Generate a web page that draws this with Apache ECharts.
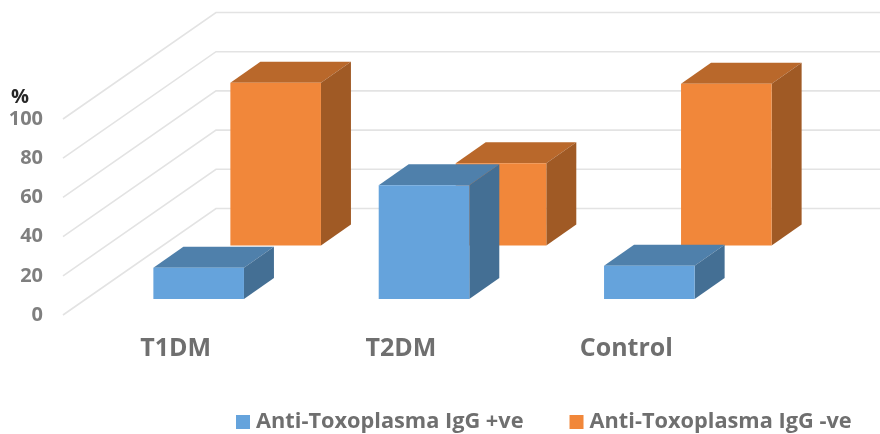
<!DOCTYPE html>
<html>
<head>
<meta charset="utf-8">
<style>
  html, body { margin: 0; padding: 0; background: #fff; }
  #chart { width: 880px; height: 434px; }
</style>
<script src="https://cdn.jsdelivr.net/npm/echarts@6/dist/echarts.min.js"></script>
</head>
<body>
<div id="chart"></div>
<script>
const categories = ['T1DM', 'T2DM', 'Control'];
const positive = [16, 58, 17];
const negative = [83, 42, 82.5];
const yTicks = [0, 20, 40, 60, 80, 100];

const fontName = '"Open Sans", sans-serif';
const chart = echarts.init(document.getElementById('chart'));

// draws one box: shiftX/shiftY is how far back on the floor the front face sits
function boxRenderer(shiftX, shiftY, colors) {
    return function (params, api) {
        const top = api.coord([api.value(0), api.value(1)]);
        const base = api.coord([api.value(0), 0]);
        const w = api.size([1, 0])[0] * 0.402;
        const x0 = top[0] - w / 2 + shiftX;
        const x1 = x0 + w;
        const yt = top[1] + shiftY;
        const yb = base[1] + shiftY;
        const dx = 30, dy = -21;
        return {
            type: 'group',
            children: [
                { type: 'polygon', shape: { points: [[x0, yt], [x1, yt], [x1 + dx, yt + dy], [x0 + dx, yt + dy]] }, style: { fill: colors[1] } },
                { type: 'polygon', shape: { points: [[x1, yt], [x1 + dx, yt + dy], [x1 + dx, yb + dy], [x1, yb]] }, style: { fill: colors[2] } },
                { type: 'rect', shape: { x: x0, y: yt, width: w, height: yb - yt }, style: { fill: colors[0] } }
            ]
        };
    };
}

// side wall diagonal plus back wall line for every y tick
function wallRenderer(params, api) {
    const p = api.coord([0, api.value(1)]);
    const left = params.coordSys.x;
    const right = left + params.coordSys.width + 153;
    const y = p[1];
    return {
        type: 'polyline',
        shape: { points: [[left, y], [left + 153, y - 106.5], [right, y - 106.5]] },
        style: { fill: 'none', stroke: '#e3e3e3', lineWidth: 1.6 }
    };
}

chart.setOption({
    animation: false,
    backgroundColor: '#fff',
    textStyle: { fontFamily: fontName },
    grid: { left: 63, top: 119, width: 676, height: 196 },
    legend: {
        data: ['Anti-Toxoplasma IgG +ve', 'Anti-Toxoplasma IgG -ve'],
        left: 231,
        top: 406,
        icon: 'rect',
        itemWidth: 14,
        itemHeight: 14,
        itemGap: 46,
        textStyle: { color: '#6f6f6f', fontWeight: 'bold', fontSize: 21.75, fontFamily: fontName, padding: [0, 0, 0, 1] }
    },
    xAxis: {
        type: 'category',
        data: categories,
        axisLine: { show: false },
        axisTick: { show: false },
        axisLabel: { color: '#6f6f6f', fontWeight: 'bold', fontSize: 25, margin: 21, fontFamily: fontName }
    },
    yAxis: {
        type: 'value',
        min: 0,
        max: 100,
        interval: 20,
        axisLine: { show: false },
        axisTick: { show: false },
        splitLine: { show: false },
        axisLabel: { color: '#7f7f7f', fontWeight: 'bold', fontSize: 20, margin: 20, padding: [7, 0, 0, 0], fontFamily: fontName }
    },
    graphic: [
        { type: 'text', left: 11, top: 87, style: { text: '%', fill: '#262626', font: 'bold 20px ' + fontName } }
    ],
    series: [
        {
            name: 'walls',
            type: 'custom',
            clip: false,
            silent: true,
            renderItem: wallRenderer,
            encode: { x: 0, y: 1 },
            data: yTicks.map(v => [0, v]),
            z: 1
        },
        {
            name: 'Anti-Toxoplasma IgG -ve',
            type: 'custom',
            clip: false,
            renderItem: boxRenderer(100, -69.5, ['#f1873a', '#b9682b', '#a05a25']),
            encode: { x: 0, y: 1 },
            itemStyle: { color: '#f1873a' },
            data: negative.map((v, i) => [i, v]),
            z: 2
        },
        {
            name: 'Anti-Toxoplasma IgG +ve',
            type: 'custom',
            clip: false,
            renderItem: boxRenderer(23, -16, ['#65a3dc', '#4f80ab', '#446f94']),
            encode: { x: 0, y: 1 },
            itemStyle: { color: '#65a3dc' },
            data: positive.map((v, i) => [i, v]),
            z: 3
        }
    ]
});
</script>
</body>
</html>
